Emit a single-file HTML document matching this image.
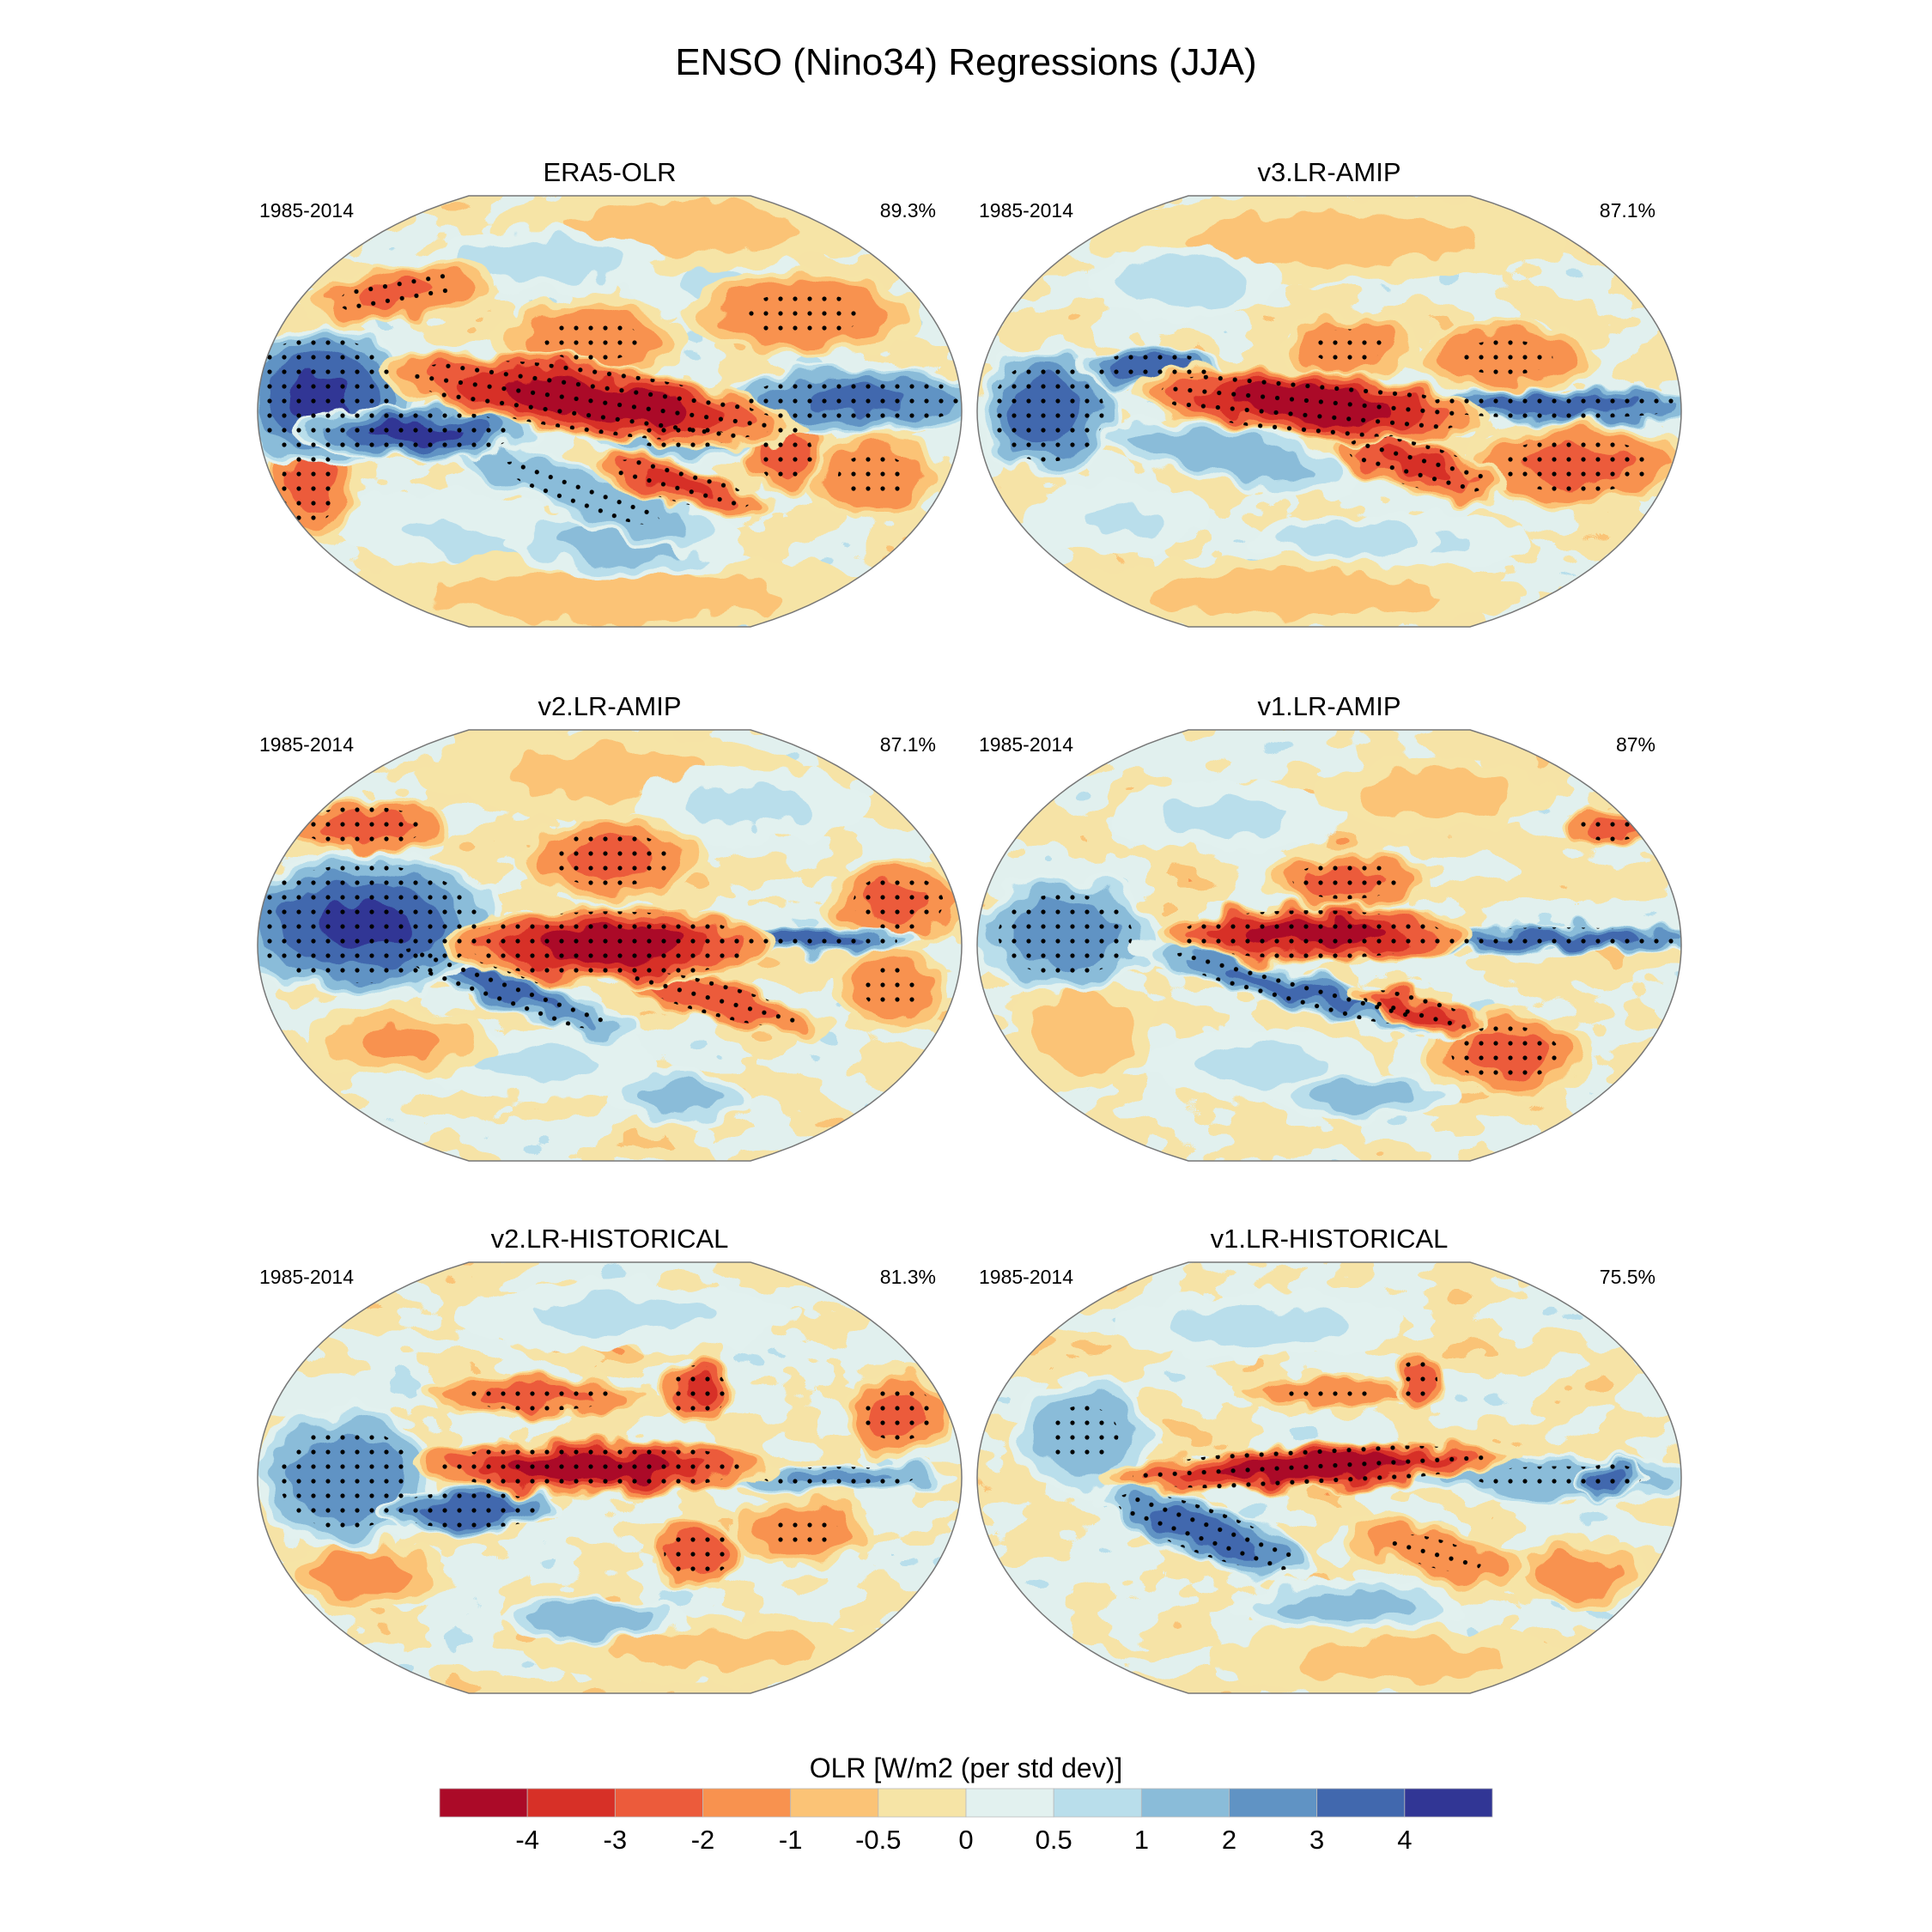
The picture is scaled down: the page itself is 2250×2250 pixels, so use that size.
<!DOCTYPE html>
<html><head><meta charset="utf-8">
<style>
html,body{margin:0;padding:0;background:#fff;}
svg{display:block;font-family:"Liberation Sans",sans-serif;}
</style></head>
<body>
<svg id="fig" width="2250" height="2250" viewBox="0 0 2250 2250" xmlns="http://www.w3.org/2000/svg">
<defs>
<pattern id="stip" width="17" height="17" patternUnits="userSpaceOnUse">
<circle cx="8" cy="8" r="2.6" fill="#000"/>
</pattern>
<filter id="wig" x="-10%" y="-10%" width="120%" height="120%" color-interpolation-filters="sRGB">
<feTurbulence type="fractalNoise" baseFrequency="0.025" numOctaves="2" seed="3" result="n"/>
<feDisplacementMap in="SourceGraphic" in2="n" scale="38" xChannelSelector="R" yChannelSelector="G"/>
</filter>
<filter id="bgnoise" x="0" y="0" width="100%" height="100%" filterUnits="objectBoundingBox" color-interpolation-filters="sRGB">
<feTurbulence type="fractalNoise" baseFrequency="0.012 0.02" numOctaves="3" seed="7" result="t"/>
<feColorMatrix in="t" type="matrix" values="1 0 0 0 0  1 0 0 0 0  1 0 0 0 0  0 0 0 0 1" result="g"/>
<feComponentTransfer in="g">
<feFuncR type="discrete" tableValues="0.973 0.984 0.965 0.965 0.886 0.886 0.725 0.541"/>
<feFuncG type="discrete" tableValues="0.573 0.765 0.894 0.894 0.945 0.945 0.871 0.737"/>
<feFuncB type="discrete" tableValues="0.31 0.463 0.651 0.651 0.937 0.937 0.922 0.851"/>
<feFuncA type="linear" slope="0" intercept="1"/>
</feComponentTransfer>
</filter>
</defs>
<text x="1125" y="87" font-size="44" text-anchor="middle">ENSO (Nino34) Regressions (JJA)</text>
<g id="panels"></g>
<g id="cbar">
<text x="1125" y="2070" font-size="32" text-anchor="middle">OLR [W/m2 (per std dev)]</text>
</g>
</svg>
<script>
const levelColors = ["#ab0a28","#d73027","#ec5b3b","#f8924f","#fbc376","#f6e4a6","#e2f1ef","#b9deeb","#8abcd9","#6093c4","#4168ae","#313695"];
const tickLabels = ["-4","-3","-2","-1","-0.5","0","0.5","1","2","3","4"];
const thresholds = [0,0.5,1,2,3,4];

const panelTitles = ["ERA5-OLR","v3.LR-AMIP","v2.LR-AMIP","v1.LR-AMIP","v2.LR-HISTORICAL","v1.LR-HISTORICAL"];
const panelPct = ["89.3%","87.1%","87.1%","87%","81.3%","75.5%"];

const era5X   = [-0.05,-0.82,-0.55,-0.08,0.2,0.7,0.2,0.5,-0.05,0.55,-0.6,-0.85,0.75,-0.2,0.05,0.0,0.2,-0.4,0.3];
const era5Y   = [-0.05,-0.07,0.1,0.38,0.12,-0.05,0.34,0.2,-0.33,-0.45,-0.55,0.35,0.3,-0.7,0.6,0.85,-0.85,0.6,-0.6];
const era5RX  = [0.45,0.2,0.25,0.35,0.2,0.3,0.2,0.08,0.2,0.25,0.2,0.1,0.15,0.25,0.25,0.6,0.4,0.3,0.2];
const era5RY  = [0.13,0.25,0.1,0.1,0.08,0.12,0.08,0.15,0.15,0.15,0.1,0.2,0.15,0.1,0.12,0.15,0.15,0.15,0.12];
const era5Rot = [8,0,0,20,0,0,15,0,0,0,-10,0,0,0,0,0,0,10,0];
const era5Val = [-5,4.5,4.5,2,2,3.5,-3.5,-3,-2,-2,-2.5,-2.5,-2,1,1.5,-0.8,-0.8,0.6,0.6];

const v3aX   = [-0.05,-0.8,-0.5,0.65,0.25,0.7,-0.3,0.05,0.5,-0.4,0.05,0.0,-0.1,0.3,-0.6];
const v3aY   = [-0.03,0,-0.2,-0.03,0.25,0.25,0.2,-0.3,-0.25,-0.6,0.6,-0.8,0.85,0.6,0.5];
const v3aRX  = [0.38,0.15,0.15,0.35,0.2,0.25,0.3,0.15,0.2,0.2,0.2,0.5,0.5,0.2,0.2];
const v3aRY  = [0.12,0.22,0.07,0.06,0.1,0.15,0.1,0.12,0.12,0.12,0.08,0.15,0.12,0.1,0.12];
const v3aRot = [5,0,0,0,15,0,10,0,0,0,0,0,0,0,0];
const v3aVal = [-5,4,4,4,-3.5,-2.5,1.8,-2,-2,1,1,-0.8,-0.8,0.6,0.6];

const v2aX   = [0,-0.7,-0.3,0.55,0.3,0,-0.7,0.82,0.8,0.2,-0.2,0.0,-0.6,0.4];
const v2aY   = [0,-0.1,0.2,-0.02,0.25,-0.4,-0.55,-0.2,0.2,0.7,0.55,-0.8,0.45,-0.65];
const v2aRX  = [0.35,0.3,0.3,0.25,0.25,0.2,0.18,0.15,0.12,0.15,0.25,0.4,0.2,0.25];
const v2aRY  = [0.14,0.25,0.08,0.05,0.08,0.15,0.1,0.15,0.15,0.1,0.12,0.15,0.12,0.12];
const v2aRot = [0,0,20,0,15,0,0,0,0,0,0,0,0,0];
const v2aVal = [-5,4.5,3.5,4,-3,-2.5,-3,-2.5,-2,1.5,0.7,-0.7,-1.2,0.7];

const v1aX   = [-0.05,-0.75,-0.1,0.65,0.25,0.5,0.05,0.8,0.1,-0.7,-0.3,0.3,-0.2];
const v1aY   = [-0.05,-0.05,0.2,-0.03,0.3,0.5,-0.3,-0.55,0.7,0.4,-0.6,-0.7,0.55];
const v1aRX  = [0.33,0.2,0.35,0.35,0.15,0.18,0.18,0.1,0.2,0.15,0.25,0.25,0.25];
const v1aRY  = [0.1,0.2,0.07,0.05,0.06,0.15,0.1,0.07,0.08,0.2,0.12,0.12,0.12];
const v1aRot = [0,0,15,0,15,0,0,0,0,0,0,0,0];
const v1aVal = [-5,3,3.5,4,-4,-2.5,-2.5,-3,1.5,-1,0.7,-0.8,0.7];

const v2hX   = [-0.05,-0.75,-0.4,-0.2,0.25,0.25,0.82,0.55,0.65,-0.05,-0.7,0.05,0.3];
const v2hY   = [-0.05,0,0.15,-0.38,-0.4,0.35,-0.3,0.25,0,0.65,0.45,-0.75,0.8];
const v2hRX  = [0.38,0.2,0.2,0.25,0.08,0.1,0.12,0.15,0.25,0.2,0.18,0.35,0.4];
const v2hRY  = [0.1,0.25,0.08,0.08,0.12,0.12,0.15,0.12,0.06,0.08,0.12,0.12,0.12];
const v2hRot = [0,0,0,0,0,0,0,0,0,0,0,0,0];
const v2hVal = [-5,3,4,-2.5,-3.5,-3,-2.5,-2,2.5,1.8,-1.5,0.7,-0.7];

const v1hX   = [-0.05,-0.35,0.8,0.65,0,0.25,0.3,-0.7,0.05,0.7,-0.2,0.2];
const v1hY   = [-0.05,0.25,0,0,-0.4,-0.45,0.35,-0.2,0.6,0.45,-0.7,0.85];
const v1hRX  = [0.45,0.25,0.08,0.35,0.2,0.06,0.2,0.15,0.25,0.15,0.3,0.4];
const v1hRY  = [0.08,0.1,0.06,0.08,0.06,0.1,0.1,0.2,0.1,0.12,0.12,0.12];
const v1hRot = [-3,20,0,0,0,0,15,0,0,0,0,0];
const v1hVal = [-5,4,4,2,-2,-3,-2,2,1.5,-1.5,0.8,-0.7];

const panelData = [
  [era5X,era5Y,era5RX,era5RY,era5Rot,era5Val],
  [v3aX,v3aY,v3aRX,v3aRY,v3aRot,v3aVal],
  [v2aX,v2aY,v2aRX,v2aRY,v2aRot,v2aVal],
  [v1aX,v1aY,v1aRX,v1aRY,v1aRot,v1aVal],
  [v2hX,v2hY,v2hRX,v2hRY,v2hRot,v2hVal],
  [v1hX,v1hY,v1hRX,v1hRY,v1hRot,v1hVal]
];

const NS="http://www.w3.org/2000/svg";
const GROW=1.35;
function mk(tag, attrs, parent){const e=document.createElementNS(NS,tag);for(const k in attrs)e.setAttribute(k,attrs[k]);if(parent)parent.appendChild(e);return e;}
function binColor(val, t){
  const idx = [0,0.5,1,2,3,4].indexOf(t);
  return val>0 ? levelColors[6+idx] : levelColors[5-idx];
}
const colX=[300,1138], rowY=[228,850,1470], PW=820, PH=502;
const panelsG=document.getElementById('panels');

for(let p=0;p<6;p++){
  const x0=colX[p%2], y0=rowY[Math.floor(p/2)], cx=x0+PW/2, cy=y0+PH/2;
  const g=mk('g',{},panelsG);
  
  
  let pts=[];
  for(let i=0;i<=60;i++){const yy=-1+2*i/60;const hw=PW/2*Math.sqrt(1-Math.pow(0.9165*yy,2));pts.push([cx+hw,cy+yy*PH/2]);}
  for(let i=60;i>=0;i--){const yy=-1+2*i/60;const hw=PW/2*Math.sqrt(1-Math.pow(0.9165*yy,2));pts.push([cx-hw,cy+yy*PH/2]);}
  const d='M'+pts.map(q=>q[0].toFixed(1)+','+q[1].toFixed(1)).join('L')+'Z';
  const cp=mk('clipPath',{id:'clip'+p},g);
  mk('path',{d:d},cp);
  const body=mk('g',{'clip-path':'url(#clip'+p+')'},g);
  const bgr=mk('rect',{x:x0,y:y0,width:PW,height:PH,fill:'#f3e6b4',filter:'url(#bgnoise)'},body);
  
  
  const field=mk('g',{filter:'url(#wig)'},body);
  const stipG=mk('g',{},body);
  const [X,Y,RX,RY,ROT,VAL]=panelData[p];
  const order=VAL.map((v,i)=>i).sort((a,b)=>Math.abs(VAL[a])-Math.abs(VAL[b]));
  for(const i of order){
    const bx=cx+X[i]*PW/2, by=cy+Y[i]*PH/2, rx=RX[i]*PW/2*GROW, ry=RY[i]*PH/2*GROW, v=VAL[i], av=Math.abs(v);
    const bg=mk('g',{transform:`rotate(${ROT[i]} ${bx} ${by})`},field);
    
    
    for(const t of thresholds){
      if(t>=av) break;
      const s=Math.sqrt(1-t/av);
      mk('ellipse',{cx:bx,cy:by,rx:rx*s,ry:ry*s,fill:binColor(v,t)},bg);
    }
    if(av>=2){
      const s=Math.sqrt(1-1.5/av);
      const st=mk('ellipse',{cx:bx,cy:by,rx:rx*s,ry:ry*s,fill:'url(#stip)',transform:`rotate(${ROT[i]} ${bx} ${by})`},stipG);
      
      
    }
  }
  const outline=mk('path',{d:d,fill:'none',stroke:'#777','stroke-width':1.5},g);
  
  
  const tt=mk('text',{x:cx,y:y0-17,'font-size':31,'text-anchor':'middle'},g);
  tt.textContent=panelTitles[p];
  
  
  const yr=mk('text',{x:x0+2,y:y0+25,'font-size':23},g);
  yr.textContent='1985-2014';
  
  
  const pc=mk('text',{x:x0+790,y:y0+25,'font-size':23,'text-anchor':'end'},g);
  pc.textContent=panelPct[p];
  
  
}

const cb=document.getElementById('cbar');
const cbX0=512, cbX1=1738, cbY=2083, cbH=33, bw=(cbX1-cbX0)/levelColors.length;
levelColors.forEach((c,i)=>{
  const r=mk('rect',{x:cbX0+i*bw,y:cbY,width:bw,height:cbH,fill:c,stroke:'#bbb','stroke-width':0.8},cb);
  
  
});
tickLabels.forEach((l,i)=>{
  const t=mk('text',{x:cbX0+(i+1)*bw,y:2153,'font-size':31,'text-anchor':'middle'},cb);
  t.textContent=l;
  
  
});
</script>
</body></html>
